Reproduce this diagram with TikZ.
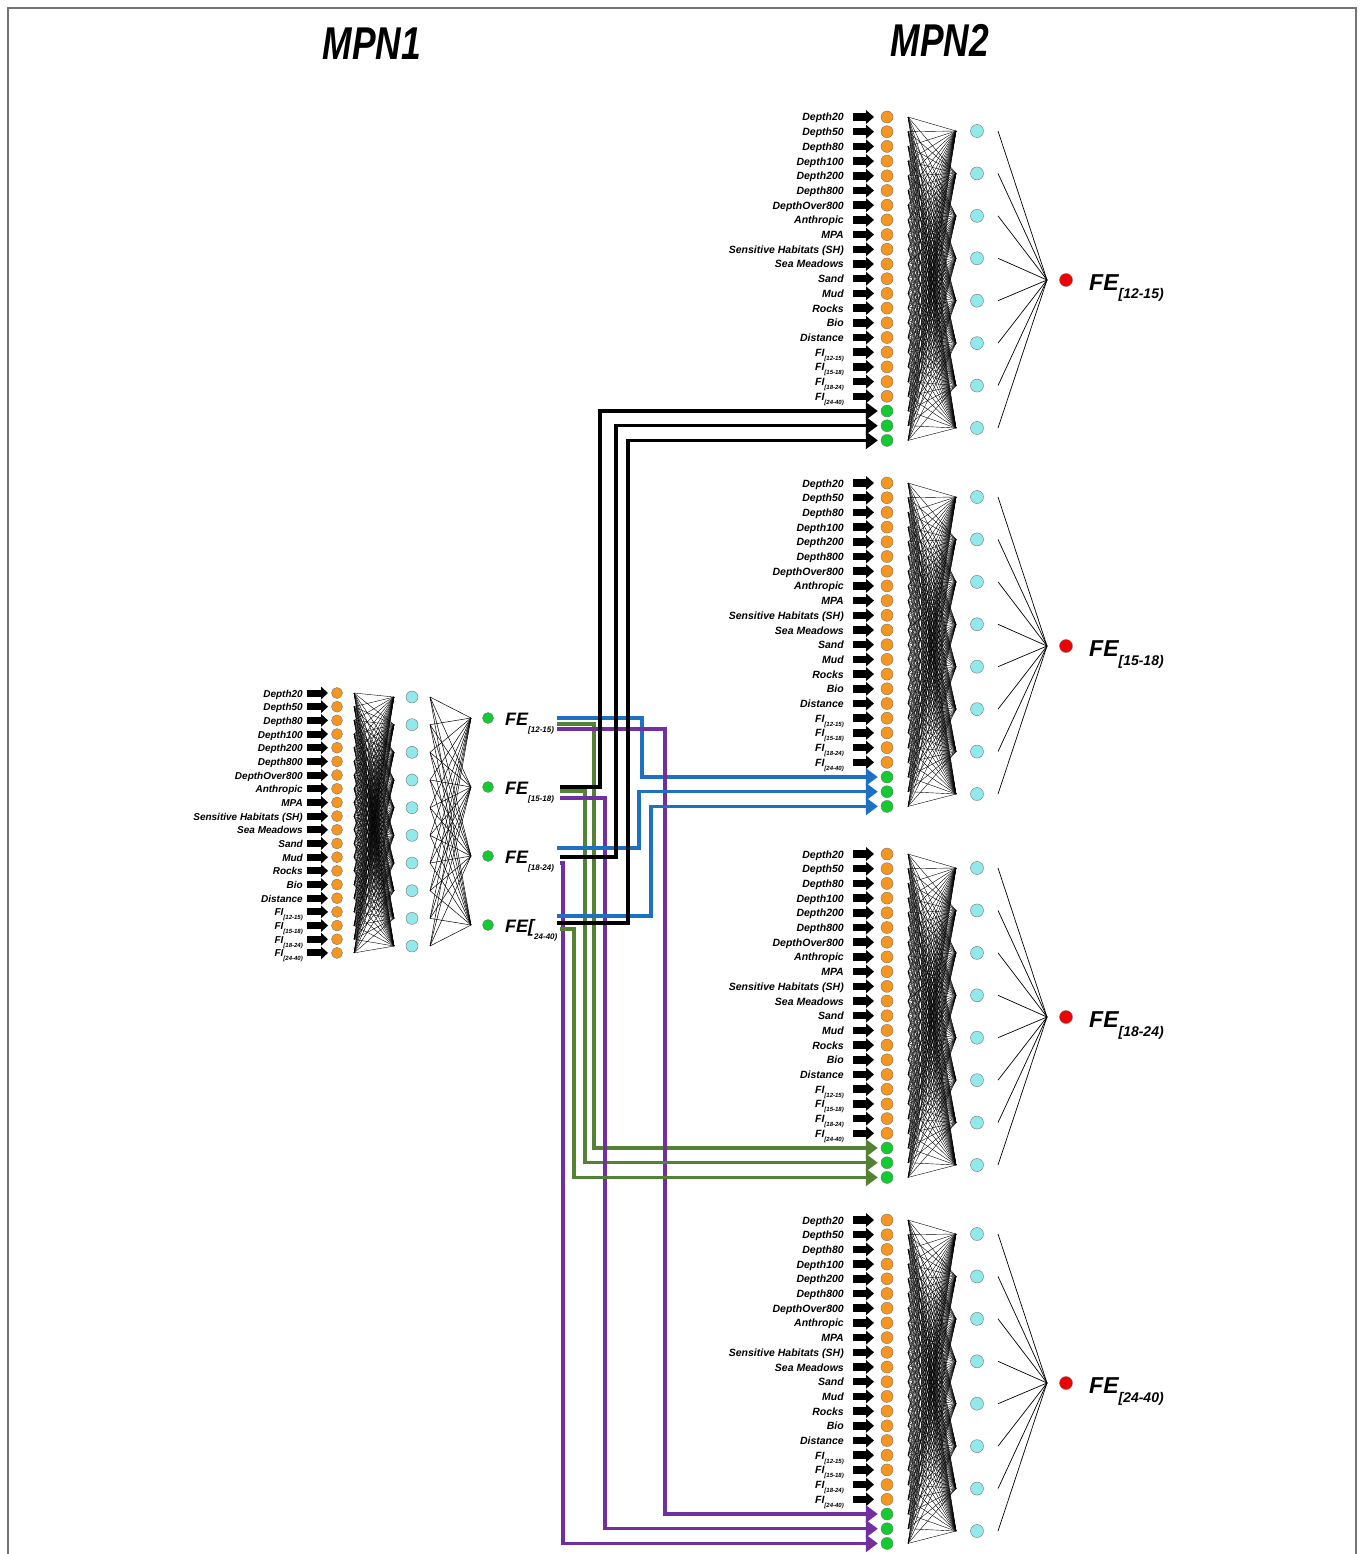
\documentclass[tikz,border=0pt]{standalone}
\usepackage{fontspec}
\setmainfont{Liberation Sans}
\newfontfamily\titlefont{Liberation Sans}[FakeStretch=0.77]
\usetikzlibrary{calc, arrows.meta}

\definecolor{inorange}{RGB}{246,150,32}
\definecolor{hidcyan}{RGB}{146,233,236}
\definecolor{outgreen}{RGB}{16,204,48}
\definecolor{outred}{RGB}{240,0,0}
\definecolor{linkblue}{RGB}{30,112,196}
\definecolor{linkgreen}{RGB}{84,130,53}
\definecolor{linkpurple}{RGB}{112,48,160}
\definecolor{framegray}{RGB}{115,115,115}

% lowered small text: size, drop, text
\newcommand{\lowsub}[3]{\raisebox{-#2}{\fontsize{#1}{#1}\selectfont #3}}
\newcommand{\varlist}{Depth20, Depth50, Depth80, Depth100, Depth200, Depth800, DepthOver800, Anthropic, MPA, {Sensitive Habitats (SH)}, {Sea Meadows}, Sand, Mud, Rocks, Bio, Distance, {FI\lowsub{6}{4pt}{[12-15)}}, {FI\lowsub{6}{4pt}{[15-18)}}, {FI\lowsub{6}{4pt}{[18-24)}}, {FI\lowsub{6}{4pt}{[24-40)}}}

\begin{document}
\begin{tikzpicture}[x = 1pt, y = -1pt]
	\tikzstyle {pointlike} = [draw = black!55, circle, inner sep = 0pt, line width = 0.4pt];
	\tikzstyle {inputlike} = [pointlike, fill = inorange, minimum size = 12pt];
	\tikzstyle {feedlike} = [pointlike, fill = outgreen, minimum size = 12pt];
	\tikzstyle {hiddenlike} = [pointlike, fill = hidcyan, minimum size = 13pt];
	\tikzstyle {outlike} = [pointlike, fill = outred, minimum size = 13pt];
	\tikzstyle {varname} = [anchor = base east, inner sep = 0pt, font = \fontsize{10.5}{11}\selectfont\bfseries\itshape];
	\tikzstyle {inarrow} = [line width = 7.5pt, -{Triangle[length = 8pt, width = 13.5pt]}];
	\tikzstyle {wire} = [line width = 0.4pt, black];
	\tikzstyle {link} = [line width = 3.5pt, -{Triangle[length = 12pt, width = 17pt]}, shorten > = 3pt];

	\useasboundingbox (0, 0) rectangle (1363, 1554);
	\draw[framegray, line width = 1.5pt] (8, 1554) -- (8, 8) -- (1356, 8) -- (1356, 1554);

	\node[font = \titlefont\fontsize{46}{46}\selectfont\bfseries\itshape, anchor = base] (mpn1) at (372, 60) {MPN1};
	\node[font = \titlefont\fontsize{46}{46}\selectfont\bfseries\itshape, anchor = base] (mpn2) at (940, 57) {MPN2};

	% MPN1
	\foreach \lab [count = \i] in \varlist {
			\node[inputlike, minimum size = 11pt] (in\i) at (337, 679.32 + 13.68 * \i) {};
			\draw[inarrow, line width = 7pt, -{Triangle[length = 7pt, width = 12.5pt]}] ([xshift = -30pt] in\i.center) -- ([xshift = -9pt] in\i.center);
			\node[varname, font = \fontsize{10}{10}\selectfont\bfseries\itshape] at ([xshift = -34pt, yshift = -4pt] in\i.center) {\lab};
		}
	\foreach \k in {1, ..., 10} {
			\node[hiddenlike, minimum size = 12pt] (hid\k) at (412, 669.33 + 27.67 * \k) {};
		}
	\foreach \m/\fe in {1/{FE\lowsub{8}{7pt}{[12-15)}}, 2/{FE\lowsub{8}{7pt}{[15-18)}}, 3/{FE\lowsub{8}{7pt}{[18-24)}}, 4/{FE[\lowsub{8}{7pt}{24-40)}}} {
			\node[feedlike, minimum size = 11pt] (o\m) at (488, 649 + 69 * \m) {};
			\node[anchor = base west, inner sep = 0pt, font = \fontsize{18}{18}\selectfont\bfseries\itshape] at ([xshift = 17pt, yshift = -7pt] o\m.center) {\fe};
		}
	\foreach \i in {1, ..., 20} {
			\foreach \k in {1, ..., 10} {
					\draw[wire] ([xshift = 17pt] in\i.center) -- ([xshift = -18pt] hid\k.center);
				}
		}
	\foreach \k in {1, ..., 10} {
			\foreach \m in {1, ..., 4} {
					\draw[wire, line width = 0.5pt] ([xshift = 18pt] hid\k.center) -- ([xshift = -17pt] o\m.center);
				}
		}

	% MPN2: one net per output
	\foreach \b/\ytop/\fe in {1/117/{[12-15)}, 2/483/{[15-18)}, 3/854/{[18-24)}, 4/1220/{[24-40)}} {
			\foreach \lab [count = \i] in \varlist {
					\node[inputlike] (x\b-\i) at (887, \ytop + 14.7 * \i - 14.7) {};
					\draw[inarrow] ([xshift = -34pt] x\b-\i.center) -- ([xshift = -13pt] x\b-\i.center);
					\node[varname] at ([xshift = -43pt, yshift = -4pt] x\b-\i.center) {\lab};
				}
			\foreach \j in {1, 2, 3} {
					\node[feedlike] (g\b\j) at (887, \ytop + 14.7 * \j + 279.3) {};
				}
			\foreach \k in {1, ..., 8} {
					\node[hiddenlike] (h\b-\k) at (977, \ytop + 42.43 * \k - 28.43) {};
				}
			\node[outlike] (y\b) at (1066, \ytop + 163) {};
			\node[anchor = base west, inner sep = 0pt, font = \fontsize{23}{23}\selectfont\bfseries\itshape] (t\b) at (1089, \ytop + 173) {FE\lowsub{14}{9pt}{\fe}};
			\foreach \i in {1, ..., 20} {
					\foreach \k in {1, ..., 8} {
							\draw[wire] ([xshift = 21pt] x\b-\i.center) -- ([xshift = -21pt] h\b-\k.center);
						}
				}
			\foreach \j in {1, 2, 3} {
					\foreach \k in {1, ..., 8} {
							\draw[wire] ([xshift = 21pt] g\b\j.center) -- ([xshift = -21pt] h\b-\k.center);
						}
				}
			\foreach \k in {1, ..., 8} {
					\draw[line width = 0.7pt] ([xshift = 21pt] h\b-\k.center) -- ([xshift = -19pt] y\b.center);
				}
		}

	% MPN1 outputs fed to the other nets
	\foreach \m/\b/\j/\sx/\sy/\vx/\col in {1/2/1/557/718/642/linkblue, 1/3/1/557/724/594/linkgreen, 1/4/1/557/729/665/linkpurple, 2/1/1/560/787/600/black, 2/3/2/560/791/585/linkgreen, 2/4/2/560/798/605/linkpurple, 3/2/2/557/848/639/linkblue, 3/1/2/560/857/616/black, 3/4/3/560/863/563/linkpurple, 4/2/3/557/916/651/linkblue, 4/1/3/557/923/628/black, 4/3/3/560/929/574/linkgreen} {
			\coordinate (s\m\b) at (\sx, \sy);
			\draw[link, draw = \col] (s\m\b) -- ++(\vx - \sx, 0) |- (g\b\j.west);
		}
\end{tikzpicture}
\end{document}
